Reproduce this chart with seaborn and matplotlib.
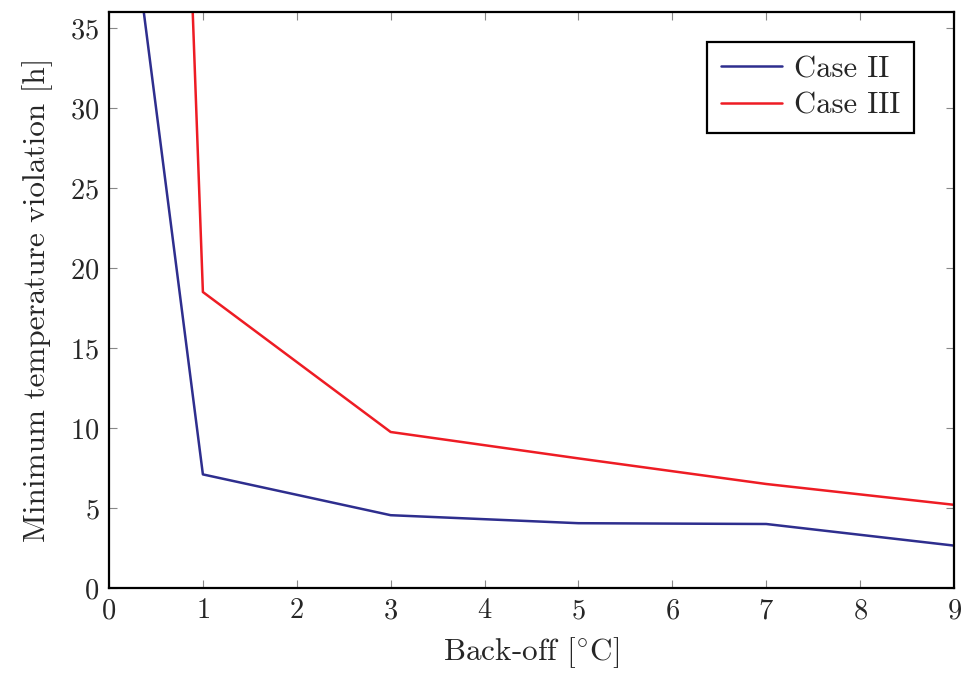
import numpy as np
import pandas as pd
import matplotlib
matplotlib.use("Agg")
import matplotlib.pyplot as plt
import seaborn as sns

# data
backoff = [0, 1, 3, 5, 7, 9]
case2 = [53.0, 7.1, 4.55, 4.05, 4.0, 2.65]
case3 = [180.0, 18.5, 9.75, 8.1, 6.5, 5.2]
labels = ["Case II", "Case III"]

sns.set_theme(style="white")
plt.rcParams['font.family'] = ['cmr10', 'DejaVu Serif']
plt.rcParams['mathtext.fontset'] = 'cm'
plt.rcParams['axes.formatter.use_mathtext'] = True

df = pd.DataFrame({
    'x': backoff * 2,
    'y': case2 + case3,
    'case': [labels[0]] * len(backoff) + [labels[1]] * len(backoff),
})

fig = plt.figure(figsize=(9.63, 6.77), dpi=100)
ax = fig.add_axes([109/963, 1 - 588/677, (954-109)/963, (588-12)/677])
sns.lineplot(data=df, x='x', y='y', hue='case',
             palette=['#2e2e8e', '#ee1c24'], linewidth=1.8, ax=ax)

ax.set_xlim(0, 9)
ax.set_ylim(0, 36)
ax.set_xticks(range(0, 10))
ax.set_yticks(range(0, 36, 5))
ax.tick_params(direction='in', length=6, width=0.8, color='#888888',
               labelsize=20.5, top=True, right=True, bottom=True, left=True,
               pad=7)
for s in ax.spines.values():
    s.set_color('black')
    s.set_linewidth(1.6)
ax.set_xlabel(r"Back-off [$^{\circ}$C]", fontsize=22.5, labelpad=8)
ax.set_ylabel("Minimum temperature violation [h]", fontsize=22.5, labelpad=12)

leg = ax.legend(loc='upper right', fontsize=22, fancybox=False,
                edgecolor='black', framealpha=1, borderpad=0.45,
                handlelength=2.0, labelspacing=0.3, handletextpad=0.4,
                borderaxespad=0, bbox_to_anchor=(0.953, 0.948))
leg.get_frame().set_linewidth(1.6)

fig.savefig("out.png", dpi=100)
